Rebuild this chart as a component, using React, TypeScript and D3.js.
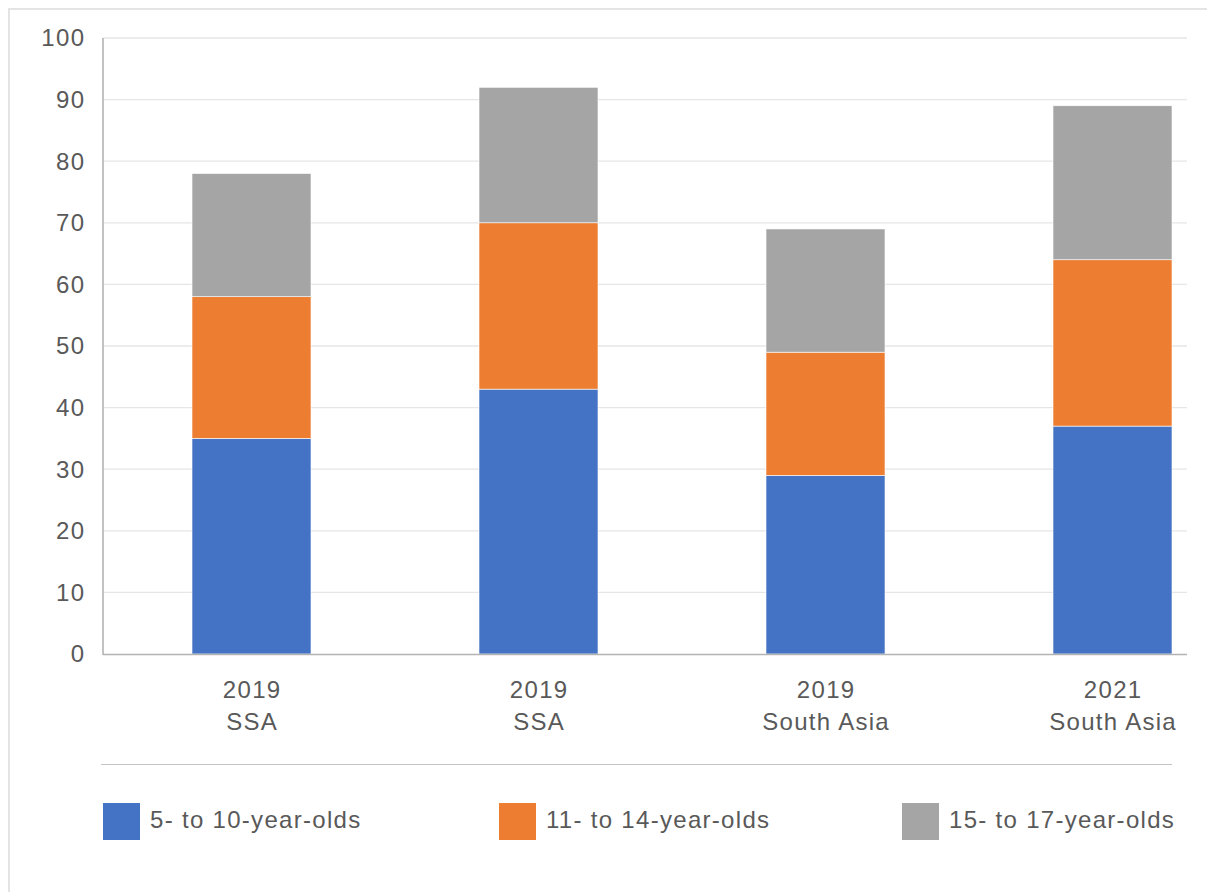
import React from "react";
import * as d3 from "d3";

const years = ["2019", "2019", "2019", "2021"];
const regions = ["SSA", "SSA", "South Asia", "South Asia"];
const age5to10 = [35, 43, 29, 37];
const age11to14 = [23, 27, 20, 27];
const age15to17 = [20, 22, 20, 25];
const seriesNames = ["5- to 10-year-olds", "11- to 14-year-olds", "15- to 17-year-olds"];
const seriesColors = ["#4472C4", "#ED7D31", "#A5A5A5"];
const yTicks = [0, 10, 20, 30, 40, 50, 60, 70, 80, 90, 100];

const W = 1207;
const H = 892;
const FONT = "'Liberation Sans', Arial, Helvetica, sans-serif";
const LS = 1.3;

export default function App() {
  const plotLeft = 103;
  const plotRight = 1187;
  const y = d3.scaleLinear().domain([0, 100]).range([654, 38]);
  const idx = years.map((_, i) => i);
  const x = d3.scaleBand<number>().domain(idx).range([108, 108 + 4 * 287]).padding(0);
  const barW = 119;

  const rows = idx.map((i) => ({ i, a: age5to10[i], b: age11to14[i], c: age15to17[i] }));
  const stack = d3.stack<any>().keys(["a", "b", "c"]);
  const stacked = stack(rows);

  const legendX = [103, 499, 902];

  return (
    <svg width={W} height={H} style={{ position: "absolute", left: 0, top: 0, display: "block" }} fontFamily={FONT}>
      <rect x={0} y={0} width={W} height={H} fill="#fff" />
      <rect x={9} y={9} width={1230} height={910} fill="none" stroke="#e4e4e4" strokeWidth={2} />
      {yTicks.map((t) => (
        <g key={t}>
          {t > 0 && (
            <line x1={plotLeft} x2={plotRight} y1={y(t)} y2={y(t)} stroke="#e6e6e6" strokeWidth={1.3} />
          )}
          <text x={84 + LS} y={y(t)} dy="0.35em" textAnchor="end" fontSize={24} letterSpacing={LS} fill="#595959">
            {t}
          </text>
        </g>
      ))}
      {stacked.map((s, si) =>
        s.map((d, i) => {
          const cx = (x(i) as number) + x.bandwidth() / 2;
          return (
            <rect
              key={si + "-" + i}
              x={cx - barW / 2}
              y={y(d[1])}
              width={barW}
              height={y(d[0]) - y(d[1])}
              fill={seriesColors[si]}
              stroke="#ffffff"
              strokeWidth={0.6}
            />
          );
        })
      )}
      <line x1={plotLeft} x2={plotLeft} y1={38} y2={655} stroke="#b3b3b3" strokeWidth={1.6} />
      <line x1={plotLeft} x2={plotRight} y1={654.5} y2={654.5} stroke="#b3b3b3" strokeWidth={1.6} />
      {idx.map((i) => {
        const cx = (x(i) as number) + x.bandwidth() / 2 + LS / 2;
        return (
          <g key={"lab" + i}>
            <text x={cx} y={698} textAnchor="middle" fontSize={24} letterSpacing={LS} fill="#595959">
              {years[i]}
            </text>
            <text x={cx} y={730} textAnchor="middle" fontSize={24} letterSpacing={LS} fill="#595959">
              {regions[i]}
            </text>
          </g>
        );
      })}
      <line x1={101} x2={1172} y1={764.5} y2={764.5} stroke="#c4c4c4" strokeWidth={1.2} />
      {seriesNames.map((n, i) => (
        <g key={n}>
          <rect x={legendX[i]} y={803} width={37} height={37} fill={seriesColors[i]} />
          <text x={legendX[i] + 47} y={828} fontSize={24} letterSpacing={LS} fill="#595959">
            {n}
          </text>
        </g>
      ))}
    </svg>
  );
}
